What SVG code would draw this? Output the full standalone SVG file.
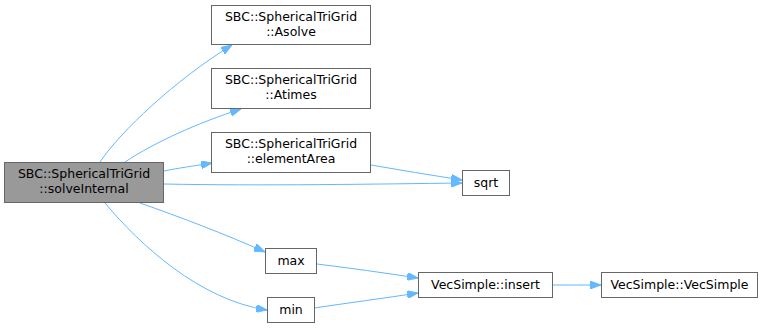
<svg xmlns="http://www.w3.org/2000/svg" width="773" height="329" viewBox="0 0 773 329">
<style>
.n rect{fill:#ffffff;stroke:#666666;stroke-width:1}
.n.main rect{fill:#999999}
.n text{font-family:"DejaVu Sans",sans-serif;font-size:12.5px;fill:#000000;text-anchor:middle}
.e path{fill:none;stroke:#63b8ff;stroke-width:1}
</style>
<defs>
<marker id="ah" viewBox="0 0 11 8" refX="11" refY="4" markerWidth="11" markerHeight="8" markerUnits="userSpaceOnUse" orient="auto">
<path d="M0,0 L11,4 L0,8 Z" fill="#63b8ff" stroke="#63b8ff"/>
</marker>
</defs>
<rect width="773" height="329" fill="#ffffff"/>
<g id="edges" class="e">
<path d="M100,162 C120,132 175,80 232,45" marker-end="url(#ah)"/>
<path d="M125,162 C155,142 200,122 241,109" marker-end="url(#ah)"/>
<path d="M164,171 C178,168 194,166 212,163" marker-end="url(#ah)"/>
<path d="M371,165 C400,170 430,175 462,180" marker-end="url(#ah)"/>
<path d="M164,184 C260,186 380,184 462,183" marker-end="url(#ah)"/>
<path d="M140,203 C180,217 225,234 265,252" marker-end="url(#ah)"/>
<path d="M105,203 C140,245 200,300 267,310" marker-end="url(#ah)"/>
<path d="M317,264 C350,268 385,273 418,278" marker-end="url(#ah)"/>
<path d="M314,308 C348,303 385,298 418,293" marker-end="url(#ah)"/>
<path d="M553,285 L601,285" marker-end="url(#ah)"/>
</g>
<g id="solveInternal" class="n main">
<rect x="4.5" y="162.5" width="159" height="40"/>
<text x="84" y="178">SBC::SphericalTriGrid</text>
<text x="84" y="193">::solveInternal</text>
</g>
<g id="Asolve" class="n">
<rect x="211.5" y="5.5" width="159" height="39"/>
<text x="291" y="20.5">SBC::SphericalTriGrid</text>
<text x="291" y="35.5">::Asolve</text>
</g>
<g id="Atimes" class="n">
<rect x="211.5" y="68.5" width="159" height="40"/>
<text x="291" y="84">SBC::SphericalTriGrid</text>
<text x="291" y="99">::Atimes</text>
</g>
<g id="elementArea" class="n">
<rect x="211.5" y="132.5" width="159" height="40"/>
<text x="291" y="148">SBC::SphericalTriGrid</text>
<text x="291" y="163">::elementArea</text>
</g>
<g id="sqrt" class="n">
<rect x="462.5" y="170.5" width="47" height="25"/>
<text x="486" y="187">sqrt</text>
</g>
<g id="max" class="n">
<rect x="265.5" y="248.5" width="51" height="25"/>
<text x="291" y="265">max</text>
</g>
<g id="min" class="n">
<rect x="267.5" y="297.5" width="47" height="25"/>
<text x="291" y="314">min</text>
</g>
<g id="insert" class="n">
<rect x="418.5" y="272.5" width="134" height="25"/>
<text x="485.5" y="289">VecSimple::insert</text>
</g>
<g id="VecSimple" class="n">
<rect x="601.5" y="272.5" width="156" height="25"/>
<text x="679.5" y="289">VecSimple::VecSimple</text>
</g>
</svg>
